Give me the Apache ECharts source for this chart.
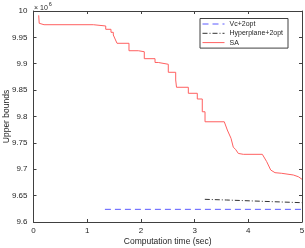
<!DOCTYPE html>
<html>
<head>
<meta charset="utf-8">
<script src="https://cdn.jsdelivr.net/npm/echarts@6/dist/echarts.min.js"></script>
<style>html,body{margin:0;padding:0;background:#fff}#c{width:305px;height:248px}</style>
</head>
<body>
<div id="c"></div>
<script>
// values in units of 1e6
const saData = [
  [0.097, 9.9918], [0.106, 9.9767], [0.196, 9.9740], [1.114, 9.9740], [1.114, 9.9716],
  [1.345, 9.9716], [1.345, 9.9653], [1.443, 9.9653], [1.443, 9.9596], [1.486, 9.9596],
  [1.486, 9.9545], [1.518, 9.9513], [1.555, 9.9388], [1.778, 9.9388], [1.778, 9.9247],
  [1.952, 9.9247], [1.952, 9.9228], [2.063, 9.9228], [2.063, 9.9096], [2.263, 9.9096],
  [2.263, 9.9024], [2.324, 9.9024], [2.324, 9.8990], [2.510, 9.8990], [2.510, 9.8838],
  [2.648, 9.8838], [2.648, 9.8692], [2.663, 9.8554], [2.883, 9.8554], [2.883, 9.8440],
  [3.050, 9.8440], [3.050, 9.8332], [3.143, 9.8332], [3.143, 9.8090], [3.194, 9.8090],
  [3.194, 9.7900], [3.553, 9.7900], [3.609, 9.7744], [3.678, 9.7587], [3.721, 9.7416],
  [3.762, 9.7378], [3.814, 9.7300], [3.907, 9.7283], [4.261, 9.7283], [4.343, 9.7143],
  [4.417, 9.6986], [4.497, 9.6935], [4.622, 9.6923], [4.838, 9.6891], [4.931, 9.6859],
  [5.000, 9.6810]
];
const vcData = [[1.33, 9.624], [5.0, 9.624]];
const hyperData = [[3.19, 9.6430], [3.597, 9.6417], [4.46, 9.6385], [5.0, 9.6366]];
const seriesNames = ['Vc+2opt', 'Hyperplane+2opt', 'SA'];
const xTicks = [0, 1, 2, 3, 4, 5];
const yTicks = [9.6, 9.65, 9.7, 9.75, 9.8, 9.85, 9.9, 9.95, 10];

const axisColor = '#404040';
const font = 'Liberation Sans, Arial, sans-serif';
const chart = echarts.init(document.getElementById('c'), null, {renderer: 'canvas'});
const baseX = {
  type: 'value', min: xTicks[0], max: xTicks[xTicks.length - 1], interval: 1,
  axisLine: {show: true, onZero: false, lineStyle: {color: axisColor, width: 1}},
  axisTick: {show: true, inside: true, length: 3, lineStyle: {color: axisColor}},
  splitLine: {show: false}
};
const baseY = {
  type: 'value', min: yTicks[0], max: yTicks[yTicks.length - 1], interval: 0.05,
  axisLine: {show: true, onZero: false, lineStyle: {color: axisColor, width: 1}},
  axisTick: {show: true, inside: true, length: 3, lineStyle: {color: axisColor}},
  splitLine: {show: false}
};
chart.setOption({
  animation: false,
  textStyle: {fontFamily: font},
  grid: {left: 33.5, right: 3, top: 11, bottom: 26, containLabel: false, outerBoundsMode: 'none'},
  xAxis: [
    Object.assign({}, baseX, {
      position: 'bottom',
      name: 'Computation time (sec)', nameLocation: 'middle', nameGap: 15, nameMoveOverlap: false,
      nameTextStyle: {fontSize: 8.5, color: '#262626', fontFamily: font},
      axisLabel: {show: true, margin: 5, fontSize: 8, color: '#262626', fontFamily: font}
    }),
    Object.assign({}, baseX, {position: 'top', axisLabel: {show: false}})
  ],
  yAxis: [
    Object.assign({}, baseY, {
      position: 'left',
      name: 'Upper bounds', nameLocation: 'middle', nameGap: 22, nameRotate: 90, nameMoveOverlap: false,
      nameTextStyle: {fontSize: 8.5, color: '#262626', fontFamily: font, align: 'center', verticalAlign: 'bottom'},
      axisLabel: {show: true, margin: 6, fontSize: 8, color: '#262626', fontFamily: font,
        formatter: v => String(+v.toFixed(2))}
    }),
    Object.assign({}, baseY, {position: 'right', axisLabel: {show: false}})
  ],
  legend: {
    data: seriesNames,
    orient: 'vertical', left: 200, top: 18.5,
    itemWidth: 22, itemHeight: 7, itemGap: 2.3,
    padding: [2, 5, 2, 2],
    borderColor: axisColor, borderWidth: 1, backgroundColor: '#fff',
    itemStyle: {opacity: 0},
    lineStyle: {width: 1},
    textStyle: {fontSize: 7, color: '#262626', fontFamily: font}
  },
  series: [
    {name: seriesNames[0], type: 'line', data: vcData, symbol: 'none',
      lineStyle: {color: '#5a5aff', width: 1, type: [6, 4]}, itemStyle: {color: '#5a5aff'}},
    {name: seriesNames[1], type: 'line', data: hyperData, symbol: 'none',
      lineStyle: {color: '#333333', width: 1, type: [5, 2, 1, 2]}, itemStyle: {color: '#333333'}},
    {name: seriesNames[2], type: 'line', data: saData, symbol: 'none',
      lineStyle: {color: '#ff6060', width: 1}, itemStyle: {color: '#ff6060'}}
  ],
  graphic: [{
    type: 'text', left: 34, top: 1,
    style: {
      text: '{a|× 10}{b|6}', fontFamily: font,
      rich: {a: {fontSize: 7, fill: '#262626', padding: [4, 0, 0, 0]}, b: {fontSize: 5.5, fill: '#262626', verticalAlign: 'top', padding: [0, 0, 4, 1]}}
    }
  }]
});
</script>
</body>
</html>
